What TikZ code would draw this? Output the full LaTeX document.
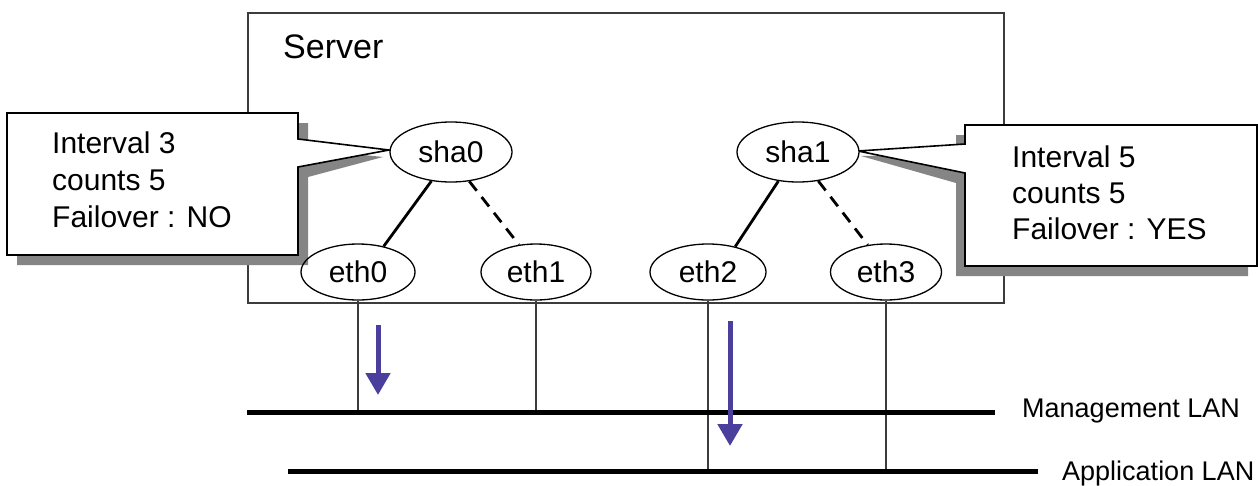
\documentclass[tikz,border=0pt]{standalone}
\usepackage{fontspec}
\setmainfont{Liberation Sans}
\usetikzlibrary{shapes.geometric,arrows.meta}
\definecolor{arrowblue}{HTML}{4B3F9E}
\definecolor{shadowgray}{HTML}{858585}
\definecolor{boxgray}{HTML}{3C3C3C}
\begin{document}
\begin{tikzpicture}[x=1pt,y=-1pt,
  servertxt/.style={font=\fontsize{34}{40}\selectfont, inner sep=0pt, anchor=base west},
  calltxt/.style={font=\fontsize{30}{36}\selectfont, inner sep=0pt, anchor=base west},
  lantxt/.style={font=\fontsize{27}{32}\selectfont, inner sep=0pt, anchor=base west},
  serverbox/.style={draw=boxgray, line width=1.6pt, inner sep=0pt, anchor=north west},
  shabox/.style={ellipse, draw, line width=1.3pt, minimum width=122pt, minimum height=60pt, inner sep=0pt, font=\fontsize{30}{36}\selectfont},
  ethbox/.style={ellipse, draw, line width=1.3pt, minimum width=114pt, minimum height=56pt, inner sep=0pt, font=\fontsize{30}{36}\selectfont},
  calloutshape/.style={draw=black, line width=1.6pt, fill=white, line join=miter},
  calloutshadow/.style={fill=shadowgray, draw=none},
  activelink/.style={line width=2.8pt},
  standbylink/.style={line width=2.8pt, dash pattern=on 12pt off 8pt},
  drop/.style={draw=boxgray, line width=1.6pt},
  lanline/.style={line width=5pt},
  flow/.style={draw=arrowblue, line width=5pt, -{Triangle[width=24pt,length=22pt]}}
]
\useasboundingbox (0,0) rectangle (1258,485);

% server box
\node[serverbox, minimum width=756pt, minimum height=290pt] (server) at (247,12) {};
\node[servertxt] (servername) at (283,58) {Server};

% left callout
\path[calloutshadow] (17,123) -- (308,123) -- (308,149) -- (383,157) -- (308,177) -- (308,265) -- (17,265) -- cycle;
\path[calloutshape] (7,113) -- (298,113) -- (298,139) -- (389,150) -- (298,167) -- (298,255) -- (7,255) -- cycle;
\node[calltxt] (c0a) at (52,153) {Interval 3};
\node[calltxt] (c0b) at (52,190) {counts 5};
\node[calltxt] (c0c) at (52,227) {Failover : NO};

% right callout
\path[calloutshadow] (956,135) -- (1248,135) -- (1248,276) -- (956,276) -- (956,183) -- (861,156) -- (956,154) -- cycle;
\path[calloutshape] (965,125) -- (1257,125) -- (1257,266) -- (965,266) -- (965,173) -- (858,151) -- (965,144) -- cycle;
\node[calltxt] (c1a) at (1012,167) {Interval 5};
\node[calltxt] (c1b) at (1012,203) {counts 5};
\node[calltxt] (c1c) at (1012,239) {Failover : YES};

% interfaces
\node[shabox, fill=white] (sha0) at (451,152) {sha0};
\node[shabox, fill=white] (sha1) at (798,152) {sha1};
\node[ethbox] (eth0) at (358,272) {eth0};
\node[ethbox, minimum width=110pt] (eth1) at (536,272) {eth1};
\node[ethbox, minimum width=116pt] (eth2) at (708,272) {eth2};
\node[ethbox, minimum width=111pt] (eth3) at (886,272) {eth3};

\draw[activelink] (sha0.236) -- (eth0.45);
\draw[standbylink] (sha0.302) -- (eth1.122);
\draw[activelink] (sha1.236) -- (eth2.43);
\draw[standbylink] (sha1.305) -- (eth3.124);

% LANs
\coordinate (mgmtL) at (247,412);
\coordinate (mgmtR) at (995,412);
\coordinate (appL) at (288,471);
\coordinate (appR) at (1038,471);

\draw[drop] (eth0.south) -- (eth0.south |- mgmtL);
\draw[drop] (eth1.south) -- (eth1.south |- mgmtL);
\draw[drop] (eth2.south) -- (eth2.south |- appL);
\draw[drop] (eth3.south) -- (eth3.south |- appL);

\draw[lanline] (mgmtL) -- (mgmtR);
\draw[lanline] (appL) -- (appR);

\node[lantxt] (mgmtlbl) at (1022,417) {Management LAN};
\node[lantxt] (applbl) at (1062,480) {Application LAN};

% traffic arrows
\coordinate (f0s) at (378,325);
\coordinate (f0e) at (378,395);
\coordinate (f1s) at (730,321);
\coordinate (f1e) at (730,446);
\draw[flow] (f0s) -- (f0e);
\draw[flow] (f1s) -- (f1e);
\end{tikzpicture}
\end{document}
